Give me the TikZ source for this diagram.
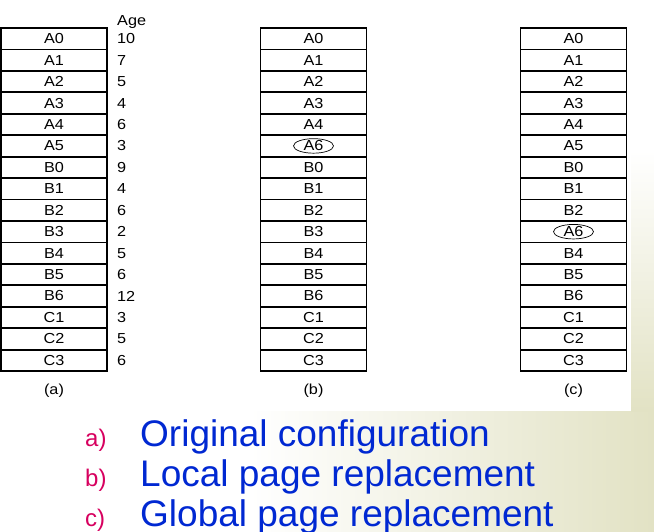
\documentclass[tikz,border=0pt]{standalone}
\usepackage{fontspec}
\setmainfont{Liberation Sans}
\usetikzlibrary{shapes.geometric}
\definecolor{listblue}{RGB}{0,40,210}
\definecolor{listmag}{RGB}{215,0,95}
\definecolor{beige}{RGB}{226,226,196}
\newcommand{\st}[1]{\scalebox{1.12}[1]{#1}}
\begin{document}
\begin{tikzpicture}[x=1pt,y=-1pt,
  cellbox/.style={draw, line width=1.8pt, minimum width=106pt, minimum height=21.44pt, inner sep=0pt, font=\fontsize{14.5}{15}\selectfont},
  agetxt/.style={anchor=west, inner sep=0pt, font=\fontsize{14.5}{15}\selectfont},
  captxt/.style={inner sep=0pt, font=\fontsize{14.5}{15}\selectfont},
  ringnode/.style={draw, ellipse, line width=0.7pt, minimum width=40pt, minimum height=13pt, inner sep=0pt, font=\fontsize{14.5}{15}\selectfont},
  labtxt/.style={anchor=base west, inner sep=0pt, text=listmag, font=\fontsize{24}{28}\selectfont},
  itemtxt/.style={anchor=base west, inner sep=0pt, text=listblue, font=\fontsize{37}{40}\selectfont}]
\useasboundingbox (0,0) rectangle (654,531);
% background
\fill[white] (0,0) rectangle (654,531);
\shade[left color=white, right color=beige] (250,411) rectangle (654,531);
\shade[top color=white, bottom color=beige] (631,150) rectangle (654,411);
\fill[white] (0,0) rectangle (631,411);
% column (a)
\node[captxt, anchor=base west] (agehead) at (117,25) {\st{Age}};
\foreach \t [count=\i from 0] in {A0,A1,A2,A3,A4,A5,B0,B1,B2,B3,B4,B5,B6,C1,C2,C3}
  \node[cellbox] (a\i) at (54,{28+21.44*(\i+0.5)}) {\st{\t}};
\foreach \v [count=\i from 0] in {10,7,5,4,6,3,9,4,6,2,5,6,12,3,5,6}
  \node[agetxt] (g\i) at (117,{28+21.44*(\i+0.5)}) {\st{\v}};
% column (b)
\foreach \t [count=\i from 0] in {A0,A1,A2,A3,A4,{},B0,B1,B2,B3,B4,B5,B6,C1,C2,C3}
  \node[cellbox] (b\i) at (313.5,{28+21.44*(\i+0.5)}) {\st{\t}};
\node[ringnode] (bring) at (b5) {\st{A6}};
% column (c)
\foreach \t [count=\i from 0] in {A0,A1,A2,A3,A4,A5,B0,B1,B2,{},B4,B5,B6,C1,C2,C3}
  \node[cellbox] (c\i) at (573.5,{28+21.44*(\i+0.5)}) {\st{\t}};
\node[ringnode] (cring) at (c9) {\st{A6}};
% captions
\node[captxt] (capa) at (54,391) {\st{(a)}};
\node[captxt] (capb) at (313.5,391) {\st{(b)}};
\node[captxt] (capc) at (573.5,391) {\st{(c)}};
% list
\node[labtxt] (la) at (85,446) {a)};
\node[itemtxt] (ia) at (140,446) {Original configuration};
\node[labtxt] (lb) at (85,486) {b)};
\node[itemtxt] (ib) at (140,486) {Local page replacement};
\node[labtxt] (lc) at (85,526) {c)};
\node[itemtxt] (ic) at (140,526) {Global page replacement};
\end{tikzpicture}
\end{document}
